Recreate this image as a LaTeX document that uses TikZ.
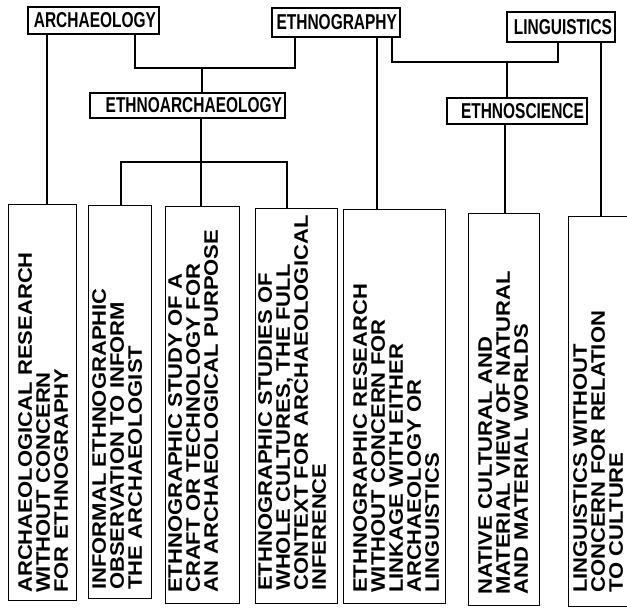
\documentclass[tikz,border=0pt]{standalone}
\usepackage{fontspec}
\setmainfont{Liberation Sans}
\newfontfamily\toplabfont[FakeStretch=0.72]{Liberation Sans}
\newfontfamily\boxtextfont[FakeStretch=1.13]{Liberation Sans}
\begin{document}
\begin{tikzpicture}[x=1pt,y=-1pt,
  lab/.style={draw, line width=1.4pt, inner ysep=0pt, inner xsep=3pt, align=right,
    font=\toplabfont\fontsize{21.5}{21.5}\selectfont\bfseries},
  bx/.style={draw, line width=1.4pt, inner sep=0pt, anchor=north west},
  txt/.style={rotate=90, anchor=north west, inner sep=0pt, align=left, text width=400pt,
    font=\boxtextfont\fontsize{19.5}{18}\selectfont\bfseries},
  con/.style={line width=1.3pt}]
\fill[white] (0,0) rectangle (627,612);
\useasboundingbox (0,0) rectangle (627,612);

% top-level labels
\node[lab, text width=125pt, minimum height=27pt] (arch) at (93.5,20.5) {ARCHAEOLOGY};
\node[lab, text width=122pt, minimum height=29pt] (ethno) at (336,22.5) {ETHNOGRAPHY};
\node[lab, text width=102pt, minimum height=30pt] (ling) at (561,27) {LINGUISTICS};
\node[lab, text width=189pt, minimum height=25pt] (earch) at (187.5,105.5) {ETHNOARCHAEOLOGY};
\node[lab, text width=134pt, minimum height=26pt] (esci) at (517,111) {ETHNOSCIENCE};

% bottom boxes
\node[bx, minimum width=68pt, minimum height=396pt] (b1) at (8,204) {};
\node[bx, minimum width=63pt, minimum height=393pt] (b2) at (88,205) {};
\node[bx, minimum width=74pt, minimum height=397pt] (b3) at (165,206) {};
\node[bx, minimum width=82pt, minimum height=395pt] (b4) at (255,208) {};
\node[bx, minimum width=102pt, minimum height=394pt] (b5) at (343,209) {};
\node[bx, minimum width=71pt, minimum height=392pt] (b6) at (468,213) {};
\node[bx, minimum width=90pt, minimum height=390pt] (b7) at (568,216) {};

% box texts
\node[txt] (t1) at (18,593) {ARCHAEOLOGICAL RESEARCH\\WITHOUT CONCERN\\FOR ETHNOGRAPHY};
\node[txt] (t2) at (92,590) {INFORMAL ETHNOGRAPHIC\\OBSERVATION TO INFORM\\THE ARCHAEOLOGIST};
\node[txt] (t3) at (168,593) {ETHNOGRAPHIC STUDY OF A\\CRAFT OR TECHNOLOGY FOR\\AN ARCHAEOLOGICAL PURPOSE};
\node[txt] (t4) at (258,591) {ETHNOGRAPHIC STUDIES OF\\WHOLE CULTURES, THE FULL\\CONTEXT FOR ARCHAEOLOGICAL\\INFERENCE};
\node[txt] (t5) at (353,593) {ETHNOGRAPHIC RESEARCH\\WITHOUT CONCERN FOR\\LINKAGE WITH EITHER\\ARCHAEOLOGY OR\\LINGUISTICS};
\node[txt] (t6) at (478,595) {NATIVE CULTURAL AND\\MATERIAL VIEW OF NATURAL\\AND MATERIAL WORLDS};
\node[txt] (t7) at (573,593) {LINGUISTICS WITHOUT\\CONCERN FOR RELATION\\TO CULTURE};

% connector guide coordinates
\coordinate (yAE) at (0,68);
\coordinate (yEL) at (0,62);
\coordinate (yEA) at (0,162);
\coordinate (x1) at (47,0);
\coordinate (xa) at (135,0);
\coordinate (xe) at (295,0);
\coordinate (xm) at (202,0);
\coordinate (x3) at (201,0);
\coordinate (x2) at (121,0);
\coordinate (x4) at (287,0);
\coordinate (x5) at (377,0);
\coordinate (xe2) at (392,0);
\coordinate (xl) at (558,0);
\coordinate (xm2) at (507,0);
\coordinate (x6) at (505,0);
\coordinate (x7) at (601,0);

% connectors
\draw[con] (arch.south -| x1) -- (b1.north -| x1);
\draw[con] (arch.south -| xa) -- (xa |- yAE) -- (xe |- yAE) -- (ethno.south -| xe);
\draw[con] (xm |- yAE) -- (earch.north -| xm);
\draw[con] (ethno.south -| x5) -- (b5.north -| x5);
\draw[con] (ethno.south -| xe2) -- (xe2 |- yEL) -- (xl |- yEL) -- (ling.south -| xl);
\draw[con] (xm2 |- yEL) -- (esci.north -| xm2);
\draw[con] (ling.south -| x7) -- (b7.north -| x7);
\draw[con] (esci.south -| x6) -- (b6.north -| x6);
\draw[con] (earch.south -| x3) -- (b3.north -| x3);
\draw[con] (b2.north -| x2) -- (x2 |- yEA) -- (x4 |- yEA) -- (b4.north -| x4);
\end{tikzpicture}
\end{document}
